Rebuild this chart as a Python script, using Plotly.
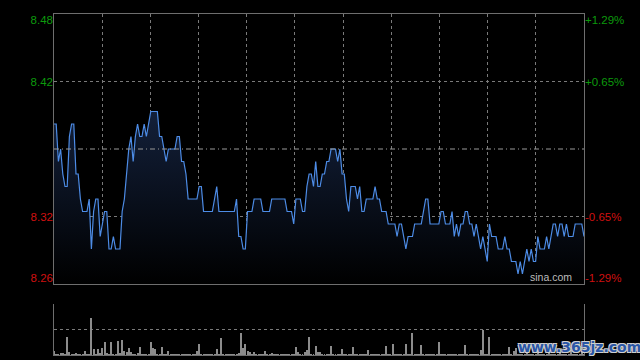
import plotly.graph_objects as go

# ---------------- data ----------------
minutes = list(range(242))

prices = [
    8.39, 8.39, 8.36, 8.37, 8.35, 8.34, 8.34, 8.38, 8.39, 8.39,
    8.35, 8.35, 8.33, 8.32, 8.32, 8.32, 8.33, 8.29, 8.32, 8.33,
    8.33, 8.30, 8.31, 8.32, 8.32, 8.29, 8.29, 8.30, 8.29, 8.29,
    8.29, 8.32, 8.33, 8.35, 8.37, 8.38, 8.36, 8.38, 8.39, 8.38,
    8.38, 8.39, 8.38, 8.39, 8.40, 8.40, 8.40, 8.40, 8.38, 8.38,
    8.37, 8.36, 8.37, 8.37, 8.37, 8.37, 8.38, 8.38, 8.36, 8.36,
    8.35, 8.33, 8.33, 8.33, 8.33, 8.33, 8.34, 8.34, 8.32, 8.32,
    8.32, 8.32, 8.32, 8.33, 8.34, 8.32, 8.32, 8.32, 8.32, 8.32,
    8.32, 8.32, 8.32, 8.33, 8.30, 8.30, 8.29, 8.29, 8.32, 8.32,
    8.32, 8.33, 8.33, 8.33, 8.33, 8.32, 8.32, 8.32, 8.32, 8.33,
    8.33, 8.33, 8.33, 8.33, 8.33, 8.33, 8.32, 8.32, 8.32, 8.31,
    8.33, 8.33, 8.33, 8.32, 8.32, 8.34, 8.35, 8.35, 8.34, 8.36,
    8.34, 8.34, 8.35, 8.35, 8.36, 8.36, 8.37, 8.37, 8.37, 8.36,
    8.37, 8.35, 8.35, 8.33, 8.32, 8.34, 8.34, 8.34, 8.33, 8.34,
    8.32, 8.32, 8.33, 8.33, 8.33, 8.33, 8.34, 8.33, 8.33, 8.32,
    8.32, 8.32, 8.31, 8.31, 8.31, 8.31, 8.30, 8.31, 8.31, 8.30,
    8.29, 8.30, 8.30, 8.30, 8.31, 8.31, 8.31, 8.31, 8.32, 8.33,
    8.33, 8.31, 8.31, 8.31, 8.31, 8.31, 8.32, 8.32, 8.31, 8.31,
    8.31, 8.32, 8.30, 8.31, 8.30, 8.31, 8.31, 8.32, 8.32, 8.31,
    8.31, 8.30, 8.31, 8.30, 8.29, 8.30, 8.29, 8.28, 8.31, 8.30,
    8.30, 8.30, 8.29, 8.29, 8.29, 8.30, 8.29, 8.29, 8.28, 8.28,
    8.28, 8.27, 8.28, 8.27, 8.28, 8.29, 8.28, 8.29, 8.28, 8.28,
    8.30, 8.29, 8.29, 8.29, 8.30, 8.29, 8.30, 8.31, 8.31, 8.30,
    8.31, 8.31, 8.30, 8.31, 8.30, 8.30, 8.30, 8.31, 8.31, 8.31,
    8.31, 8.30,
]

volumes = [
    1200, 300, 200, 500, 500, 300, 5400, 1000, 300, 200,
    500, 200, 300, 200, 1200, 300, 200, 11100, 1700, 300,
    1700, 500, 2100, 3900, 500, 300, 3900, 300, 400, 4200,
    700, 4500, 1200, 900, 2100, 900, 300, 200, 500, 2400,
    300, 200, 300, 200, 3900, 2100, 1800, 300, 200, 2400,
    300, 200, 1200, 300, 200, 300, 200, 300, 200, 300,
    200, 300, 200, 300, 400, 1200, 3300, 300, 200, 300,
    200, 300, 200, 300, 1800, 300, 5100, 300, 200, 300,
    200, 300, 200, 300, 500, 6600, 2100, 3300, 1200, 900,
    300, 900, 200, 300, 200, 300, 1200, 300, 200, 500,
    200, 300, 200, 300, 400, 200, 300, 200, 300, 200,
    2400, 900, 200, 300, 900, 1500, 5400, 300, 200, 2700,
    900, 900, 300, 200, 300, 200, 2700, 300, 200, 300,
    200, 1800, 300, 200, 300, 200, 2400, 300, 200, 300,
    200, 300, 200, 1500, 300, 200, 300, 200, 300, 200,
    300, 2700, 300, 200, 3300, 300, 200, 300, 200, 300,
    3300, 300, 200, 6600, 300, 200, 300, 3000, 300, 200,
    300, 200, 300, 200, 300, 3900, 300, 200, 300, 200,
    300, 200, 300, 200, 300, 200, 300, 3000, 300, 200,
    300, 200, 300, 200, 1500, 7500, 300, 200, 5400, 300,
    200, 300, 200, 300, 200, 300, 200, 2400, 300, 1200,
    2100, 300, 200, 300, 200, 1500, 300, 200, 300, 200,
    1200, 300, 200, 300, 200, 2000, 300, 200, 300, 200,
    1000, 300, 200, 300, 200, 1500, 300, 200, 300, 200,
    2500, 300,
]

prev_close = 8.37
price_min = 8.262
price_max = 8.478
left_labels = ["8.48", "8.42", "8.32", "8.26"]
right_labels = ["+1.29%", "+0.65%", "-0.65%", "-1.29%"]
label_values = [8.4732, 8.424, 8.316, 8.2668]
grid_values = [8.316, 8.424]
vol_max = 15200

GREEN = "#0c9a0c"
RED = "#d01010"
label_colors = [GREEN, GREEN, RED, RED]
GRID = "#7a7a7a"
BORDER = "#6e6e6e"
LINE = "#4d8ce6"
FONT = "Arial, Liberation Sans, sans-serif"

def colored(texts):
    return [f"<span style='color:{c}'>{t}</span>" for t, c in zip(texts, label_colors)]

fig = go.Figure()

fig.add_trace(go.Scatter(
    x=minutes, y=prices, mode="lines",
    line=dict(color=LINE, width=1.2),
    fill="tozeroy",
    fillgradient=dict(type="vertical", start=price_min, stop=8.40,
                      colorscale=[[0, "#000000"], [1, "#13203a"]]),
    hoverinfo="skip", showlegend=False,
))
fig.add_trace(go.Scatter(x=[0], y=[prev_close], yaxis="y3", mode="none",
                         showlegend=False, hoverinfo="skip"))
fig.add_trace(go.Scatter(x=[0], y=[prev_close], yaxis="y4", mode="none",
                         showlegend=False, hoverinfo="skip"))
fig.add_trace(go.Bar(
    x=minutes, y=volumes, xaxis="x2", yaxis="y2",
    marker=dict(color="#8c8c8c", line=dict(width=0)),
    width=0.45, hoverinfo="skip", showlegend=False,
))

vgrid = [241 * k / 11 for k in range(1, 11)]

fig.update_layout(
    width=640, height=360,
    paper_bgcolor="#000000", plot_bgcolor="#000000",
    margin=dict(l=54, r=56, t=14, b=5),
    font=dict(family=FONT, size=11),
    bargap=0,
    xaxis=dict(domain=[0, 1], range=[0, 241], anchor="y",
               tickvals=vgrid, showticklabels=False, ticks="",
               showgrid=True, gridcolor=GRID, griddash="dot", gridwidth=1,
               showline=True, mirror=True, linecolor=BORDER, linewidth=1,
               zeroline=False, fixedrange=True),
    yaxis=dict(domain=[0.2082, 1], range=[price_min, price_max], anchor="x",
               tickvals=grid_values, showticklabels=False, ticks="",
               showgrid=True, gridcolor=GRID, griddash="dot", gridwidth=1,
               showline=True, mirror=True, linecolor=BORDER, linewidth=1,
               zeroline=False),
    yaxis3=dict(overlaying="y", side="left", range=[price_min, price_max],
                anchor="x", tickvals=label_values, ticktext=colored(left_labels),
                showgrid=False, zeroline=False, ticks="", showline=False,
                tickfont=dict(size=11.5, family=FONT)),
    yaxis4=dict(overlaying="y", side="right", range=[price_min, price_max],
                anchor="x", tickvals=label_values, ticktext=colored(right_labels),
                showgrid=False, zeroline=False, ticks="", showline=False,
                tickfont=dict(size=11.5, family=FONT)),
    xaxis2=dict(domain=[0, 1], range=[0, 241], anchor="y2",
                showticklabels=False, ticks="", showgrid=False,
                showline=True, linecolor=BORDER, zeroline=False),
    yaxis2=dict(domain=[0, 0.1496], range=[0, vol_max], anchor="x2",
                tickvals=[vol_max / 2, vol_max], showticklabels=False, ticks="",
                showgrid=True, gridcolor=GRID, griddash="dot", gridwidth=1,
                showline=True, mirror=True, linecolor=BORDER, zeroline=False),
    shapes=[dict(type="line", xref="x domain", x0=0, x1=1, yref="y",
                 y0=prev_close, y1=prev_close,
                 line=dict(color="#9a9a9a", width=1, dash="5px,3px,1px,3px"))],
    annotations=[
        dict(text="sina.com", xref="x", yref="y", x=241, y=price_min,
             xanchor="right", yanchor="bottom", xshift=-10, yshift=-1,
             showarrow=False, font=dict(size=10.5, color="#bdbdbd", family=FONT)),
        dict(text="www.365jz.com", xref="paper", yref="paper", x=1, y=0,
             xanchor="left", yanchor="bottom", xshift=-68, yshift=-2,
             showarrow=False,
             font=dict(size=14, color="#2a56a6", family="DejaVu Sans", weight="bold",
                       shadow="1px 1px 0 #cfcfcf, -1px -1px 0 #cfcfcf, 1px -1px 0 #cfcfcf, -1px 1px 0 #cfcfcf")),
    ],
)

fig.write_html(
    "out.html",
    config={"displayModeBar": False},
    post_script="document.body.style.margin='0';document.body.style.background='#000';",
)
